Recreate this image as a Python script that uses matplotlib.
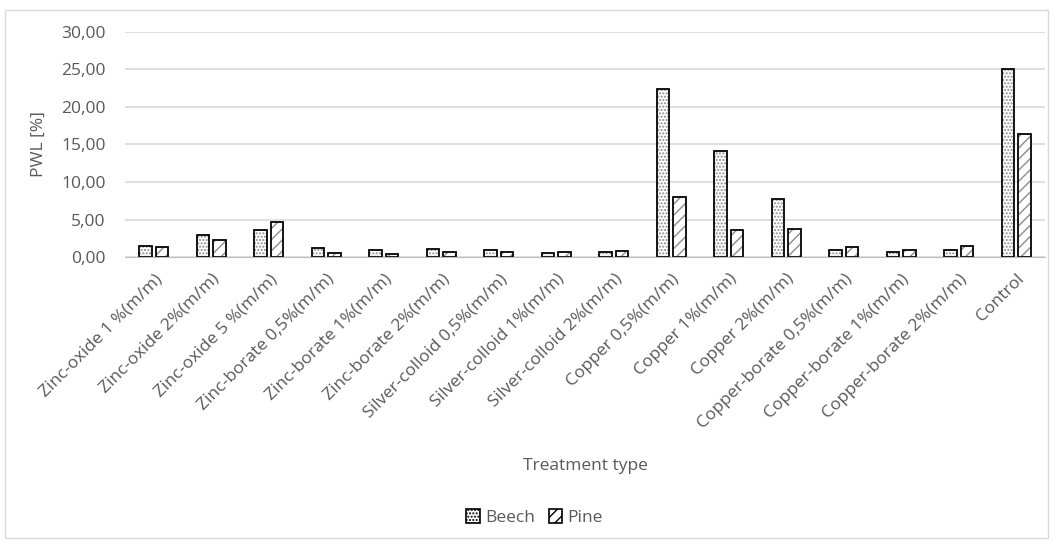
import numpy as np
import matplotlib.pyplot as plt
from matplotlib.patches import Rectangle
from matplotlib.ticker import FuncFormatter

plt.rcParams['font.family'] = ['Open Sans', 'DejaVu Sans']
plt.rcParams['hatch.linewidth'] = 1.0

treatments = ['Zinc-oxide 1 %(m/m)', 'Zinc-oxide 2%(m/m)', 'Zinc-oxide 5 %(m/m)',
              'Zinc-borate 0,5%(m/m)', 'Zinc-borate 1%(m/m)', 'Zinc-borate 2%(m/m)',
              'Silver-colloid 0,5%(m/m)', 'Silver-colloid 1%(m/m)', 'Silver-colloid 2%(m/m)',
              'Copper 0,5%(m/m)', 'Copper 1%(m/m)', 'Copper 2%(m/m)',
              'Copper-borate 0,5%(m/m)', 'Copper-borate 1%(m/m)', 'Copper-borate 2%(m/m)',
              'Control']
beech = [1.5, 3.0, 3.6, 1.2, 1.0, 1.1, 1.0, 0.6, 0.7, 22.4, 14.1, 7.7, 1.0, 0.7, 1.0, 25.1]
pine = [1.4, 2.3, 4.7, 0.6, 0.4, 0.7, 0.7, 0.7, 0.8, 8.0, 3.6, 3.8, 1.3, 1.0, 1.5, 16.4]
yticks = [0, 5, 10, 15, 20, 25, 30]

txt = '#595959'
fs = 12.5
fig = plt.figure(figsize=(10.54, 5.42), dpi=100)
ax = fig.add_axes([0.1186, 0.5258, 0.8729, 0.4152])

x = np.arange(len(treatments))
w = 0.22
ax.bar(x - 0.145, beech, w, color='white', edgecolor='black', linewidth=1.2,
       hatch='.....', label='Beech', zorder=3)
ax.bar(x + 0.145, pine, w, color='white', edgecolor='black', linewidth=1.2,
       hatch='///', label='Pine', zorder=3)
# grey hatch colour, keeping black outlines
for p in ax.patches:
    p.set_edgecolor('#8c8c8c')
for c in ax.containers:
    for p in c:
        ax.add_patch(Rectangle(p.get_xy(), p.get_width(), p.get_height(),
                               fill=False, edgecolor='black', linewidth=1.2, zorder=4))

ax.set_xlim(-0.5, len(treatments) - 0.5)
ax.set_ylim(0, 30)
ax.set_yticks(yticks)
ax.yaxis.set_major_formatter(FuncFormatter(lambda v, _: f'{v:.2f}'.replace('.', ',')))
ax.grid(axis='y', color='#d9d9d9', linewidth=1.2, zorder=0)
ax.set_axisbelow(True)
for s in ['top', 'right', 'left']:
    ax.spines[s].set_visible(False)
ax.spines['bottom'].set_color('#bfbfbf')
ax.spines['bottom'].set_zorder(5)
ax.tick_params(axis='both', length=0, colors=txt, labelsize=fs)
ax.tick_params(axis='y', pad=14)
ax.set_xticks(x)
ax.set_xticklabels(treatments, rotation=45, ha='right', rotation_mode='anchor')
ax.tick_params(axis='x', pad=10)

ax.set_ylabel('PWL [%]', color=txt, fontsize=fs)
ax.yaxis.set_label_coords(-0.085, 0.5)
fig.text(0.555, 0.14, 'Treatment type', color=txt, fontsize=fs, ha='center', va='center')

leg = fig.legend(loc='center', bbox_to_anchor=(0.507, 0.045), ncol=2, frameon=False,
                 fontsize=fs, handlelength=0.8, handleheight=0.8, handletextpad=0.3,
                 columnspacing=0.8)
for t in leg.get_texts():
    t.set_color(txt)
for h in leg.legend_handles:
    h.set_edgecolor('black')

fig.add_artist(Rectangle((5 / 1054, 4 / 542), 1043 / 1054, 528 / 542, transform=fig.transFigure,
                         fill=False, edgecolor='#d9d9d9', linewidth=1))

fig.savefig('out.png', dpi=100)
